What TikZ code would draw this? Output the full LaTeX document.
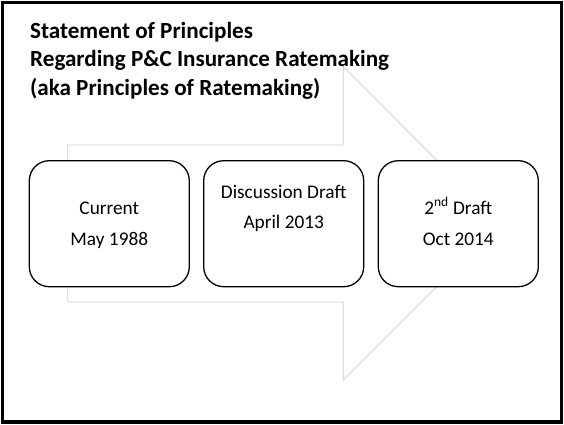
\documentclass[tikz,border=0pt]{standalone}
\usepackage{fontspec}
\setmainfont{Carlito}
\begin{document}
\begin{tikzpicture}[x=1pt,y=-1pt,
  frame/.style={draw=black,line width=3.5pt},
  arrowline/.style={draw=black!20,line width=0.8pt,line join=miter},
  stagebox/.style={draw=black,line width=1.3pt,fill=white,rounded corners=20pt,
    minimum width=160pt,minimum height=126pt,inner sep=0pt},
  stagetext/.style={anchor=base,inner sep=0pt,font=\fontsize{19.3}{30.5}\selectfont},
  titleline/.style={anchor=base west,inner sep=0pt,font=\bfseries\fontsize{23.1}{28}\selectfont}]
\useasboundingbox (0,0) rectangle (564,424);
% page frame
\draw[frame] (2.5,2.5) rectangle (561.5,421.8);
% block arrow outline behind the stages
\draw[arrowline] (67.7,145) -- (343.3,145) -- (343.3,66.7) -- (500,223.5) -- (343.3,380)
  -- (343.3,302) -- (67.7,302) -- cycle;
% title
\node[titleline] (t1) at (30,38.3) {Statement of Principles};
\node[titleline] (t2) at (30,66.7) {Regarding P\&C Insurance Ratemaking};
\node[titleline] (t3) at (30,95) {(aka Principles of Ratemaking)};
% stages
\node[stagebox] (b1) at (109.3,223.7) {};
\node[stagebox] (b2) at (283.7,223.7) {};
\node[stagebox] (b3) at (458.3,223.7) {};
\node[stagetext] (s1a) at (109.3,214.5) {Current};
\node[stagetext] (s1b) at (109.3,245) {May 1988};
\node[stagetext] (s2a) at (283.7,198.3) {Discussion Draft};
\node[stagetext] (s2b) at (283.7,228.5) {April 2013};
\node[stagetext] (s3a) at (458.3,214.5) {2\textsuperscript{nd} Draft};
\node[stagetext] (s3b) at (458.3,245) {Oct 2014};
\end{tikzpicture}
\end{document}
